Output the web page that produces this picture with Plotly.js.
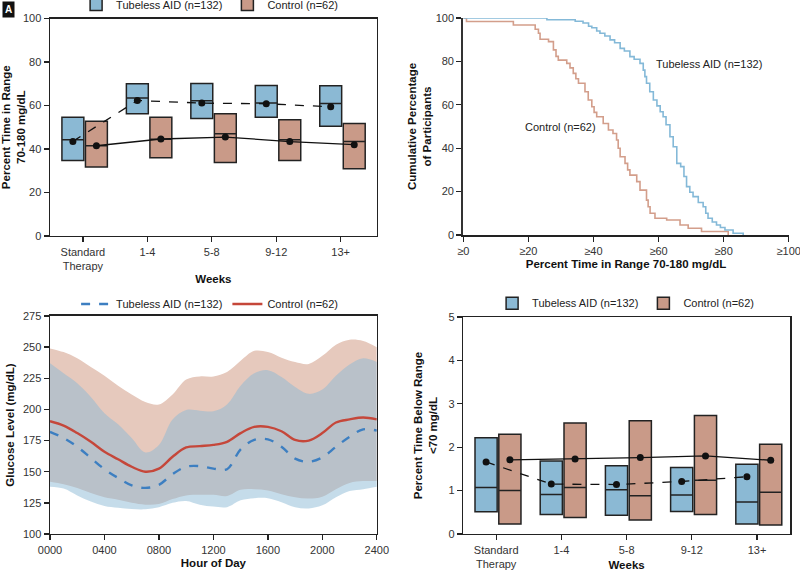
<!DOCTYPE html>
<html>
<head>
<meta charset="utf-8">
<script src="https://cdn.plot.ly/plotly-3.0.1.min.js"></script>
<style>html,body{margin:0;padding:0;background:#fff;}#chart{width:800px;height:571px;}</style>
</head>
<body>
<div id="chart"></div>
<script>
// ---------- Data ----------
const weekLabels = ['Standard<br>Therapy', '1-4', '5-8', '9-12', '13+'];
const weekIdx = [0, 1, 2, 3, 4];

// Panel A: Percent time in range 70-180 mg/dL
const tirAidQ1   = [34.7, 56.2, 54.0, 54.6, 50.5];
const tirAidMed  = [44.3, 63.4, 62.2, 61.2, 60.9];
const tirAidQ3   = [54.6, 70.0, 70.1, 69.2, 69.1];
const tirAidMean = [43.5, 62.3, 61.1, 60.8, 59.4];
const tirCtlQ1   = [31.7, 36.0, 33.8, 34.7, 30.9];
const tirCtlMed  = [41.5, 44.5, 47.0, 44.3, 43.5];
const tirCtlQ3   = [52.7, 54.6, 56.2, 53.5, 51.7];
const tirCtlMean = [41.5, 44.6, 45.5, 43.4, 42.0];

// Panel B: cumulative percentage of participants with TIR >= x
const cdfAidX = [0, 25.7, 34.4, 36.8, 38.5, 39.5, 41, 42, 43.5, 45.1, 46.5, 48.2, 49.5, 51.2, 52.5, 54.3, 55.3, 55.8, 56.3, 57.3, 58.4, 59.5, 60.5, 61.4, 62.3, 63.5, 64.5, 65.6, 66.8, 67.8, 68.6, 69.6, 70.6, 72.2, 73.7, 74.5, 75.2, 76.5, 77.8, 79, 80.4, 82.9, 86];
const cdfAidY = [100, 99.2, 98.5, 97.7, 96.2, 95.5, 94, 93, 91.7, 89.9, 88.6, 86, 84.8, 82.2, 81, 79.1, 76, 73, 69.9, 66, 62.2, 59.5, 56.8, 54.5, 50.8, 45.3, 40.7, 33, 31.5, 27, 22.3, 19.7, 17.7, 15, 13, 10, 7.7, 6, 4.6, 3.5, 2.3, 0.8, 0];
const cdfCtlX = [0, 1, 15.4, 22.1, 23.1, 23.6, 26.2, 27.7, 28.5, 29.2, 31.8, 32.8, 33.8, 34.6, 35.4, 37.4, 38.4, 39.5, 40.2, 41, 43, 44.6, 46, 47.1, 47.6, 48.2, 49.7, 50.5, 51.2, 53.3, 54.3, 56.3, 56.8, 57.4, 58.9, 62.5, 66.6, 69.1, 73.2, 81.4];
const cdfCtlY = [100, 98.4, 96.8, 94.8, 93, 90.2, 89.1, 85.3, 82.3, 80.6, 79.1, 77, 74.5, 72, 69.9, 66, 62.2, 59.1, 56.5, 54.5, 51.4, 48.4, 46.8, 43.8, 40, 36.1, 33, 30, 27.6, 24.6, 20.7, 16.1, 13, 10, 7.7, 6.9, 4.6, 3.1, 1.6, 0];
const cdfTickVals = [0, 20, 40, 60, 80, 100];
const cdfTickText = ['≥0', '≥20', '≥40', '≥60', '≥80', '≥100'];

// Panel C: glucose by hour of day
const hours = [0,1,2,3,4,5,6,7,8,9,10,11,12,13,14,15,16,17,18,19,20,21,22,23,24];
const hourTickVals = [0, 4, 8, 12, 16, 20, 24];
const hourTicks = ['0000','0400','0800','1200','1600','2000','2400'];
const ctlMean  = [190.5,187,181,174,166,160,154,150,152.5,162,169.5,170.5,171.5,174,181,186,186,182.5,175.5,175,181,189.5,192,193.5,192];
const aidMean  = [182,177,170,161,152,145,139,137,139.5,148,154,154.5,152.5,152,168,175.5,176,170,160.5,158,161.5,170,178,184,183];
const ctlUpper = [249,246,241,234,227,219,212,206,204,212,224,226.5,226.5,230,239,247,246,241.5,238,236.5,243,252,256,255,250];
const ctlLower = [142,140,137,133,129.5,127.5,125,123.5,124,128,131,131.5,131.5,130.5,135.5,136,135,132,129.5,128.5,130,136,141,142.5,142.5];
const aidUpper = [237,229,221,210,197,188,177,165.5,171.5,192,199.5,199,198.5,204,219,229,231.5,226,218,212.5,216,227,236,241,238];
const aidLower = [138,136.5,131,126,122.5,121,120,119.8,121.5,125,126.5,123.5,122,121.5,127,128.7,128.7,125.5,121.5,120.5,123,129.5,134.5,136,138];

// Panel D: percent time below range <70 mg/dL
const tbrAidQ1   = [0.51, 0.45, 0.43, 0.52, 0.23];
const tbrAidMed  = [1.07, 0.91, 1.02, 0.90, 0.74];
const tbrAidQ3   = [2.22, 1.68, 1.57, 1.53, 1.61];
const tbrAidMean = [1.66, 1.15, 1.14, 1.21, 1.32];
const tbrCtlQ1   = [0.23, 0.38, 0.32, 0.45, 0.21];
const tbrCtlMed  = [1.00, 1.07, 0.88, 1.24, 0.96];
const tbrCtlQ3   = [2.30, 2.56, 2.61, 2.73, 2.07];
const tbrCtlMean = [1.71, 1.73, 1.76, 1.80, 1.70];

const nameAid = 'Tubeless AID (n=132)';
const nameCtl = 'Control (n=62)';

// ---------- Styles ----------
const BLUE_BOX = '#8bb9d4', SAL_BOX = '#c99a88';
const BLUE_LINE = '#84b9d8', SAL_LINE = '#d39e8b';
const OFF_AID = -0.155, OFF_CTL = 0.21, BOXW = 0.34;
const INK = '#222';

function boxTrace(q1, med, q3, off, fill, name, xa, ya, leg, show) {
  return {
    type: 'box', x: weekIdx.map(i => i + off), q1: q1, median: med, q3: q3,
    lowerfence: q1, upperfence: q3, width: BOXW, whiskerwidth: 0,
    fillcolor: fill, line: {color: INK, width: 1.5}, boxpoints: false,
    name: name, xaxis: xa, yaxis: ya, legend: leg, showlegend: show, hoverinfo: 'skip'
  };
}
function meanTrace(vals, off, dash, xa, ya) {
  return {
    type: 'scatter', mode: 'lines+markers', x: weekIdx.map(i => i + off), y: vals,
    line: {color: '#111', width: 1.3, dash: dash}, marker: {color: '#111', size: 7},
    xaxis: xa, yaxis: ya, showlegend: false, hoverinfo: 'skip'
  };
}

const traces = [
  // Panel A
  boxTrace(tirAidQ1, tirAidMed, tirAidQ3, OFF_AID, BLUE_BOX, nameAid, 'x', 'y', 'legend', true),
  boxTrace(tirCtlQ1, tirCtlMed, tirCtlQ3, OFF_CTL, SAL_BOX, nameCtl, 'x', 'y', 'legend', true),
  meanTrace(tirAidMean, OFF_AID, 'dash', 'x', 'y'),
  meanTrace(tirCtlMean, OFF_CTL, 'solid', 'x', 'y'),
  // Panel B
  {type: 'scatter', mode: 'lines', x: cdfCtlX, y: cdfCtlY, line: {color: SAL_LINE, width: 1.6, shape: 'hv'},
   xaxis: 'x2', yaxis: 'y2', showlegend: false, hoverinfo: 'skip'},
  {type: 'scatter', mode: 'lines', x: cdfAidX, y: cdfAidY, line: {color: BLUE_LINE, width: 1.6, shape: 'hv'},
   xaxis: 'x2', yaxis: 'y2', showlegend: false, hoverinfo: 'skip'},
  // Panel C bands
  {type: 'scatter', mode: 'lines', x: hours, y: ctlUpper, line: {width: 0, shape: 'spline'},
   xaxis: 'x3', yaxis: 'y3', showlegend: false, hoverinfo: 'skip'},
  {type: 'scatter', mode: 'lines', x: hours, y: ctlLower, line: {width: 0, shape: 'spline'}, fill: 'tonexty',
   fillcolor: '#e6c9bd', xaxis: 'x3', yaxis: 'y3', showlegend: false, hoverinfo: 'skip'},
  {type: 'scatter', mode: 'lines', x: hours, y: aidUpper, line: {width: 0, shape: 'spline'},
   xaxis: 'x3', yaxis: 'y3', showlegend: false, hoverinfo: 'skip'},
  {type: 'scatter', mode: 'lines', x: hours, y: aidLower, line: {width: 0, shape: 'spline'}, fill: 'tonexty',
   fillcolor: 'rgba(140,185,213,0.5)', xaxis: 'x3', yaxis: 'y3', showlegend: false, hoverinfo: 'skip'},
  // Panel C means
  {type: 'scatter', mode: 'lines', x: hours, y: aidMean, name: nameAid,
   line: {color: '#3d7fc1', width: 2.4, dash: 'dash', shape: 'spline'},
   xaxis: 'x3', yaxis: 'y3', legend: 'legend2', hoverinfo: 'skip'},
  {type: 'scatter', mode: 'lines', x: hours, y: ctlMean, name: nameCtl,
   line: {color: '#c5473a', width: 2.4, shape: 'spline'},
   xaxis: 'x3', yaxis: 'y3', legend: 'legend2', hoverinfo: 'skip'},
  // Panel D
  boxTrace(tbrAidQ1, tbrAidMed, tbrAidQ3, OFF_AID, BLUE_BOX, nameAid, 'x4', 'y4', 'legend3', true),
  boxTrace(tbrCtlQ1, tbrCtlMed, tbrCtlQ3, OFF_CTL, SAL_BOX, nameCtl, 'x4', 'y4', 'legend3', true),
  meanTrace(tbrAidMean, OFF_AID, 'dash', 'x4', 'y4'),
  meanTrace(tbrCtlMean, OFF_CTL, 'solid', 'x4', 'y4')
];

function ax(extra) {
  return Object.assign({
    showgrid: false, zeroline: false, showline: true, linecolor: INK, linewidth: 1.5,
    ticks: 'outside', ticklen: 5, tickwidth: 1.3, tickcolor: INK, automargin: false,
    ticklabeloverflow: 'allow', tickfont: {size: 11, color: '#333'}
  }, extra);
}
const titleFont = {size: 11.5, color: '#111'};
const legBase = {orientation: 'h', xanchor: 'center', yanchor: 'middle', font: {size: 11, color: '#222'},
                 bgcolor: 'rgba(0,0,0,0)', traceorder: 'normal'};

const layout = {
  width: 800, height: 571, margin: {l: 0, r: 0, t: 0, b: 0, autoexpand: false},
  paper_bgcolor: '#fff', plot_bgcolor: '#fff',
  font: {family: 'Liberation Sans, Arial, sans-serif', size: 11, color: '#222'},
  showlegend: true,
  xaxis: ax({domain: [0.0625, 0.471], range: [-0.51, 4.56], anchor: 'y', mirror: true,
             tickvals: weekIdx, ticktext: weekLabels,
             title: {text: '<b>Weeks</b>', font: titleFont, standoff: 4}}),
  yaxis: ax({domain: [0.5867, 0.9676], range: [0, 100], dtick: 20, anchor: 'x', mirror: true,
             title: {text: '<b>Percent Time in Range<br>70-180 mg/dL</b>', font: titleFont, standoff: 3}}),
  xaxis2: ax({domain: [0.579, 0.986], range: [-0.01, 100.01], anchor: 'y2',
              tickvals: cdfTickVals, ticktext: cdfTickText,
              title: {text: '<b>Percent Time in Range 70-180 mg/dL</b>', font: titleFont, standoff: 4}}),
  yaxis2: ax({domain: [0.5884, 0.9685], range: [0, 100], dtick: 20, anchor: 'x2', linewidth: 2, linecolor: '#333',
              title: {text: '<b>Cumulative Percentage<br>of Participants</b>', font: titleFont, standoff: 2}}),
  xaxis3: ax({domain: [0.0625, 0.471], range: [0, 24], anchor: 'y3', mirror: true,
              tickvals: hourTickVals, ticktext: hourTicks,
              title: {text: '<b>Hour of Day</b>', font: titleFont, standoff: 4}}),
  yaxis3: ax({domain: [0.0648, 0.4466], range: [100, 275], dtick: 25, anchor: 'x3', mirror: true,
              title: {text: '<b>Glucose Level (mg/dL)</b>', font: titleFont, standoff: 6}}),
  xaxis4: ax({domain: [0.579, 0.9875], range: [-0.506, 4.506], anchor: 'y4', mirror: true,
              tickvals: weekIdx, ticktext: weekLabels,
              title: {text: '<b>Weeks</b>', font: titleFont, standoff: 2}}),
  yaxis4: ax({domain: [0.0648, 0.4448], range: [0, 5], dtick: 1, anchor: 'x4', mirror: true,
              title: {text: '<b>Percent Time Below Range<br>&lt;70 mg/dL</b>', font: titleFont, standoff: 8}}),
  boxmode: 'overlay',
  legend: Object.assign({}, legBase, {x: 0.262, y: 0.992}),
  legend2: Object.assign({}, legBase, {x: 0.262, y: 0.4676}),
  legend3: Object.assign({}, legBase, {x: 0.782, y: 0.469}),
  annotations: [
    {xref: 'x2', yref: 'y2', x: 75.5, y: 78.8, text: nameAid, showarrow: false,
     font: {size: 11, color: '#222'}},
    {xref: 'x2', yref: 'y2', x: 29.8, y: 49.8, text: nameCtl, showarrow: false,
     font: {size: 11, color: '#222'}},
    {xref: 'paper', yref: 'paper', x: 0.002, y: 0.998, xanchor: 'left', yanchor: 'top',
     text: '<b>A</b>', showarrow: false, bgcolor: '#111', font: {size: 10, color: '#fff'}, borderpad: 2}
  ]
};

Plotly.newPlot('chart', traces, layout, {staticPlot: true, displayModeBar: false});
</script>
</body>
</html>
